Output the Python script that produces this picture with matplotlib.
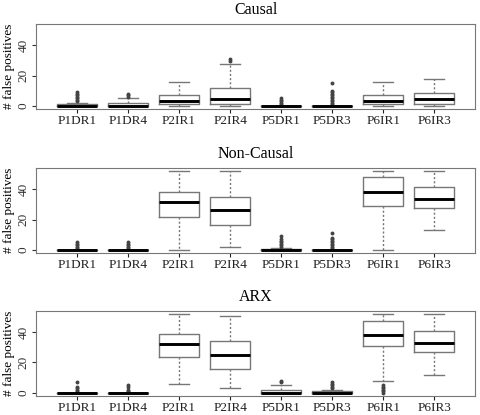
import numpy as np
import matplotlib
matplotlib.use("Agg")
import matplotlib.pyplot as plt

plt.rcParams['font.family'] = ['Liberation Serif', 'DejaVu Serif']

labels = ['P1DR1', 'P1DR4', 'P2IR1', 'P2IR4', 'P5DR1', 'P5DR3', 'P6IR1', 'P6IR3']
titles = ['Causal', 'Non-Causal', 'ARX']

# per panel: median, q1, q3, whisker low, whisker high, outliers
causal_med = [0, 0, 3.3, 4.6, 0, 0, 3.3, 4.3]
causal_q1 = [0, 0, 1.1, 1.1, 0, 0, 1.1, 1.0]
causal_q3 = [1, 2, 7.4, 11.9, 0, 0, 7.0, 8.3]
causal_lo = [0, 0, 0, 0, 0, 0, 0, 0]
causal_hi = [2, 5, 16, 28, 0, 0, 16, 18]
causal_out = [[3, 4, 5, 6, 7, 8, 9], [6, 7, 8], [], [30, 31],
              [1, 2, 3, 4, 5], [1, 2, 3, 4, 5, 6, 7, 8, 9, 10, 15], [], []]

noncausal_med = [0, 0, 31.4, 26.4, 0, 0, 38.4, 33.6]
noncausal_q1 = [0, 0, 22, 16.5, 0, 0, 28.8, 27.5]
noncausal_q3 = [0, 0, 38.5, 35.1, 0.5, 0, 48.3, 41.3]
noncausal_lo = [0, 0, 0, 2.2, 0, 0, 0, 13.2]
noncausal_hi = [0, 0, 52, 52, 1, 0, 52, 52]
noncausal_out = [[1, 2, 3, 4, 5], [1, 2, 3, 4, 5], [], [],
                 [2, 3, 4, 5, 6, 7, 9], [1, 2, 3, 4, 5, 6, 7, 8, 11], [], []]

arx_med = [0, 0, 31.9, 24.9, 0, 0, 38, 33]
arx_q1 = [0, 0, 23.8, 15.5, 0, 0, 31, 26.9]
arx_q3 = [0, 0, 38.9, 34.1, 2, 1, 47.4, 40.8]
arx_lo = [0, 0, 5.9, 3, 0, 0, 8, 11.8]
arx_hi = [0, 0, 52, 51, 5, 2, 52, 52]
arx_out = [[1, 2, 3, 4, 7], [1, 2, 4, 5], [], [],
           [7, 8], [3, 4, 5, 6, 7], [0, 1, 2, 3, 4, 5], []]

panels = [
    (causal_med, causal_q1, causal_q3, causal_lo, causal_hi, causal_out),
    (noncausal_med, noncausal_q1, noncausal_q3, noncausal_lo, noncausal_hi, noncausal_out),
    (arx_med, arx_q1, arx_q3, arx_lo, arx_hi, arx_out),
]

fig = plt.figure(figsize=(4.8, 4.15), dpi=100)
bottoms = [0.737, 0.390, 0.046]
grey = '#777777'

for title, bottom, (med, q1, q3, lo, hi, out) in zip(titles, bottoms, panels):
    ax = fig.add_axes([0.075, bottom, 0.915, 0.205])
    stats = []
    for i in range(len(labels)):
        stats.append(dict(med=med[i], q1=q1[i], q3=q3[i], whislo=lo[i],
                          whishi=hi[i], fliers=out[i], label=labels[i]))
    ax.bxp(stats, positions=np.arange(1, 9), widths=0.78,
           boxprops=dict(color=grey, linewidth=1.0),
           medianprops=dict(color='black', linewidth=2.1),
           whiskerprops=dict(color=grey, linewidth=1.0, linestyle=(0, (1.5, 1.5))),
           capprops=dict(color=grey, linewidth=1.0),
           flierprops=dict(marker='o', markersize=1.8, markerfacecolor='#444444',
                           markeredgecolor='#444444', linestyle='none'))
    ax.set_xlim(0.2, 8.8)
    ax.set_ylim(-2.08, 54.08)
    ax.set_yticks([0, 20, 40])
    ax.set_yticklabels(['0', '20', '40'], rotation=90, va='center')
    ax.tick_params(axis='both', labelsize=9.5, colors='#333333', length=3, width=0.8)
    ax.tick_params(axis='y', pad=1.5)
    ax.tick_params(axis='x', colors='#222222', pad=1.5)
    for s in ax.spines.values():
        s.set_color(grey)
    ax.set_title(title, fontsize=11.5, pad=7)
    ax.set_ylabel('# false positives', fontsize=9.5)
    ax.yaxis.set_label_coords(-0.048, 0.5)

fig.savefig('out.png', dpi=100)
